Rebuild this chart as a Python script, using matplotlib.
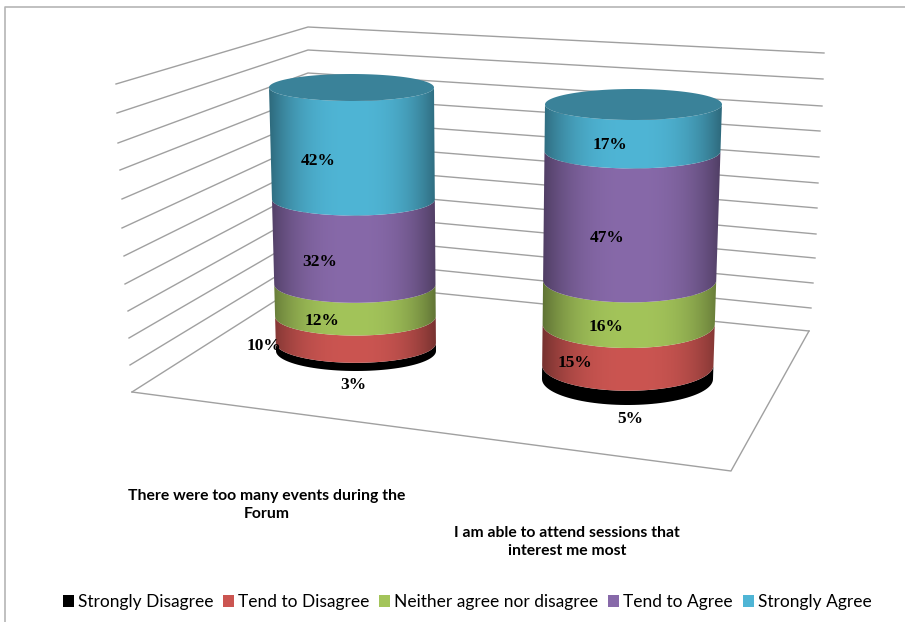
import numpy as np
import matplotlib
matplotlib.use("Agg")
import matplotlib.pyplot as plt
from matplotlib.patches import Polygon, Rectangle

categories = [
    "There were too many events during the\nForum",
    "I am able to attend sessions that\ninterest me most",
]
series = [
    "Strongly Disagree",
    "Tend to Disagree",
    "Neither agree nor disagree",
    "Tend to Agree",
    "Strongly Agree",
]
forum_values = [3, 10, 12, 32, 42]
sessions_values = [5, 15, 16, 47, 17]

colors = ["#000000", "#CB5551", "#A3C45A", "#8769A9", "#4FB5D5"]
top_color = "#3A8299"
grid_color = "#A0A0A0"

# chart is laid out in image pixels, y pointing down
W, H = 905, 622
fig = plt.figure(figsize=(W / 100, H / 100), dpi=100)
ax = fig.add_axes([0, 0, 1, 1])

# ------------------------------
# Walls and floor
corner_x = 308
corner_ys = np.linspace(27, 280, 12)
left_ends = [(116, 84), (117, 113), (118, 143), (120, 170), (122, 199), (122, 228),
             (124, 256), (125, 284), (128, 311), (129, 338), (130, 365), (132, 392)]
right_ends = [(824, 53), (823, 79), (822, 106), (820, 131), (819, 157), (818, 183),
              (817, 208), (816, 234), (815, 258), (813, 283), (811, 308), (809, 331)]

for cy, le, re in zip(corner_ys, left_ends, right_ends):
    ax.plot([le[0], corner_x, re[0]], [le[1], cy, re[1]], c=grid_color, lw=1, zorder=1)

ax.plot([132, 731, 809], [392, 471, 331], c=grid_color, lw=1, zorder=1)


# ------------------------------
# Cylinders
def draw_cylinder(values, base, top):
    """base and top are (left, right, centre y, ellipse half height)"""
    base = np.array(base, dtype=float)
    top = np.array(top, dtype=float)
    total = sum(values)
    t = np.linspace(0, np.pi, 60)

    def front_arc(f):
        left, right, cy, ry = base + (top - base) * f
        mid, rx = (left + right) / 2, (right - left) / 2
        return np.column_stack([mid - rx * np.cos(t), cy + ry * np.sin(t)])

    x0 = min(base[0], top[0])
    x1 = max(base[1], top[1])
    u = np.linspace(0, 1, 256)
    shade = 1 - 0.42 * np.abs(2 * u - 1) ** 2.6

    f0 = 0
    for v, c in zip(values, colors):
        f1 = f0 + v / total
        pts = np.vstack([front_arc(f1), front_arc(f0)[::-1]])
        poly = Polygon(pts, closed=True, fc="none", ec="none", transform=ax.transData)
        ax.add_patch(poly)
        rgb = np.array(matplotlib.colors.to_rgb(c))
        grad = (shade[None, :, None] * rgb[None, None, :])
        im = ax.imshow(grad, extent=(x0, x1, H, 0), aspect="auto", zorder=3)
        im.set_clip_path(poly)
        f0 = f1

    left, right, cy, ry = top
    mid, rx = (left + right) / 2, (right - left) / 2
    a = np.linspace(0, 2 * np.pi, 120)
    ax.fill(mid + rx * np.cos(a), cy + ry * np.sin(a), c=top_color, zorder=4, lw=0)


draw_cylinder(forum_values, (276, 436, 351, 20), (269, 434, 87.5, 13.5))
draw_cylinder(sessions_values, (542, 713, 379, 26), (545, 722, 104.5, 15.5))

# ------------------------------
# Value labels
forum_pos = [(353, 385), (264, 346), (322, 321), (320, 262), (318, 161)]
sessions_pos = [(630, 419), (575, 363), (606, 327), (607, 238), (610, 145)]

for vals, pos in [(forum_values, forum_pos), (sessions_values, sessions_pos)]:
    for v, (x, y) in zip(vals, pos):
        ax.text(x, y, f"{v}%", ha="center", va="center", fontsize=12.5,
                fontweight="bold", family="Liberation Serif", zorder=6)

# ------------------------------
# Category labels
for label, x, y in zip(categories, [267, 567], [505, 542]):
    ax.text(x, y, label, ha="center", va="center", fontsize=11.3, fontweight="bold",
            family=["Liberation Sans Narrow", "Lato"], linespacing=1.35)

# ------------------------------
# Frame
ax.plot([5, 5, W], [H, 7, 7], c="#B5B5B5", lw=1.2, zorder=1)

# ------------------------------
# Legend
handles = [Rectangle((0, 0), 1, 1, fc=c, ec="none") for c in colors]
ax.legend(handles, series, loc="center", bbox_to_anchor=(467 / W, 1 - 602 / H),
          ncol=5, frameon=False, prop={"family": "Lato", "size": 12.5},
          handlelength=0.63, handleheight=0.63, handletextpad=0.23, columnspacing=0.57,
          borderpad=0, borderaxespad=0)

ax.set_xlim(0, W)
ax.set_ylim(H, 0)
ax.axis("off")

fig.savefig("out.png", dpi=100)
